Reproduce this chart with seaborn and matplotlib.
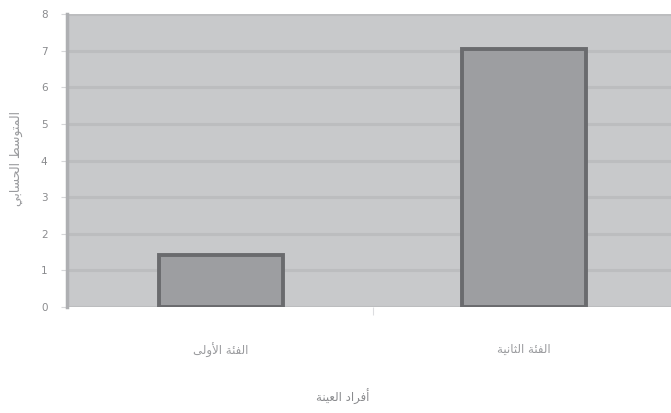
import matplotlib
matplotlib.use("Agg")
import matplotlib.pyplot as plt
import seaborn as sns
import pandas as pd

categories = ["الفئة الأولى", "الفئة الثانية"]
values = [1.42, 7.05]
y_ticks = [0, 1, 2, 3, 4, 5, 6, 7, 8]
x_title = "أفراد العينة"
y_title = "المتوسط الحسابي"

# --- minimal Arabic shaping (contextual forms + right-to-left order) ---
_BASE = {
    0x0621: (0xFE80, 1), 0x0622: (0xFE81, 2), 0x0623: (0xFE83, 2), 0x0624: (0xFE85, 2),
    0x0625: (0xFE87, 2), 0x0626: (0xFE89, 4), 0x0627: (0xFE8D, 2), 0x0628: (0xFE8F, 4),
    0x0629: (0xFE93, 2), 0x062A: (0xFE95, 4), 0x062B: (0xFE99, 4), 0x062C: (0xFE9D, 4),
    0x062D: (0xFEA1, 4), 0x062E: (0xFEA5, 4), 0x062F: (0xFEA9, 2), 0x0630: (0xFEAB, 2),
    0x0631: (0xFEAD, 2), 0x0632: (0xFEAF, 2), 0x0633: (0xFEB1, 4), 0x0634: (0xFEB5, 4),
    0x0635: (0xFEB9, 4), 0x0636: (0xFEBD, 4), 0x0637: (0xFEC1, 4), 0x0638: (0xFEC5, 4),
    0x0639: (0xFEC9, 4), 0x063A: (0xFECD, 4), 0x0641: (0xFED1, 4), 0x0642: (0xFED5, 4),
    0x0643: (0xFED9, 4), 0x0644: (0xFEDD, 4), 0x0645: (0xFEE1, 4), 0x0646: (0xFEE5, 4),
    0x0647: (0xFEE9, 4), 0x0648: (0xFEED, 2), 0x0649: (0xFEEF, 2), 0x064A: (0xFEF1, 4),
}
_LAM_ALEF = {0x0622: 0xFEF5, 0x0623: 0xFEF7, 0x0625: 0xFEF9, 0x0627: 0xFEFB}


def shape_arabic(text):
    chars = [ord(c) for c in text]
    out = []
    i = 0
    prev_joins = False
    while i < len(chars):
        c = chars[i]
        if c not in _BASE:
            out.append(chr(c))
            prev_joins = False
            i += 1
            continue
        if c == 0x0644 and i + 1 < len(chars) and chars[i + 1] in _LAM_ALEF:
            lig = _LAM_ALEF[chars[i + 1]]
            out.append(chr(lig + 1 if prev_joins else lig))
            prev_joins = False
            i += 2
            continue
        start, n = _BASE[c]
        nxt = chars[i + 1] if i + 1 < len(chars) else None
        joins_next = n == 4 and nxt in _BASE
        if prev_joins and joins_next:
            form = start + 3
        elif prev_joins:
            form = start + 1 if n > 1 else start
        elif joins_next:
            form = start + 2
        else:
            form = start
        out.append(chr(form))
        prev_joins = joins_next
        i += 1
    return "".join(reversed(out))


df = pd.DataFrame({"cat": [shape_arabic(c) for c in categories], "val": values})

sns.set_theme(style="white")
plt.rcParams["font.family"] = ["DejaVu Sans"]

fig = plt.figure(figsize=(6.71, 4.13), dpi=100)
ax = fig.add_axes([0.0998, 0.2567, 0.93, 0.7093])
ax.set_facecolor("#c8c9cb")

sns.barplot(data=df, x="cat", y="val", ax=ax, width=0.41,
            color="#9d9ea1", saturation=1, edgecolor="#6a6b6e", linewidth=2.8)

ax.set_ylim(0, 8)
ax.set_xlim(-0.508, 1.55)
ax.set_yticks(y_ticks)
ax.set_yticklabels([str(t) for t in y_ticks], fontsize=7.5, color="#8a8b8e")
ax.yaxis.grid(True, color="#bcbdbf", linewidth=2.2)
ax.set_axisbelow(True)

ax.tick_params(axis="y", which="major", left=True, length=4, width=0.8,
               color="#d6d7d9", pad=10)
ax.set_xticks([0.5], minor=True)
ax.tick_params(axis="x", which="minor", bottom=True, length=6, width=0.8,
               color="#dcdde0")
ax.tick_params(axis="x", which="major", bottom=False, pad=20,
               labelsize=8.5, labelcolor="#9a9b9e")

for side in ["top", "right", "bottom"]:
    ax.spines[side].set_visible(False)
ax.spines["left"].set_color("#aeafb2")
ax.spines["left"].set_linewidth(2.5)

ax.set_xlabel("")
ax.set_ylabel("")
fig.text(343 / 671, 1 - 397 / 413, shape_arabic(x_title), fontsize=8.5,
         color="#8a8b8e", ha="center", va="center")
fig.text(16 / 671, 1 - 158 / 413, shape_arabic(y_title), fontsize=9,
         color="#9a9b9e", ha="center", va="center", rotation=90)

fig.savefig("out.png", dpi=100)
